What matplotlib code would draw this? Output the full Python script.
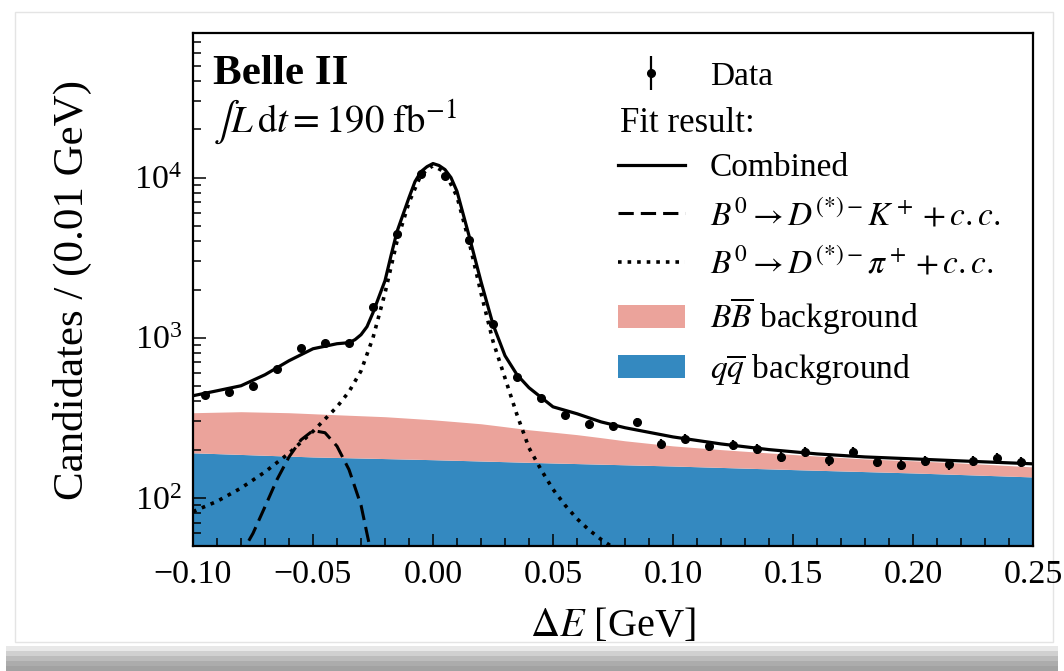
# Belle II Delta E fit plot (log scale) with stacked backgrounds

import numpy as np
import matplotlib
matplotlib.use("Agg")
import matplotlib.pyplot as plt
from matplotlib.patches import Rectangle

plt.rcParams['font.family'] = 'serif'
plt.rcParams['font.serif'] = ['Liberation Serif', 'DejaVu Serif']
plt.rcParams['mathtext.fontset'] = 'stix'

# data points (bin centres, 0.01 GeV bins)
bin_centres = np.linspace(-0.095, 0.245, 35)
counts = [440, 455, 500, 640, 860, 930, 920, 1560, 4450, 10600,
          10300, 4050, 1210, 570, 420, 330, 287, 280, 298, 218,
          234, 210, 214, 202, 180, 193, 172, 194, 168, 161,
          170, 163, 170, 176, 168]

# fit result: combined curve
comb_x = [-0.100, -0.090, -0.080, -0.070, -0.060, -0.050, -0.040, -0.035,
          -0.0325, -0.030, -0.0275, -0.025, -0.0225, -0.020, -0.0175,
          -0.015, -0.010, -0.0075, -0.005, -0.0025, 0.000, 0.0025, 0.005,
          0.0075, 0.010, 0.015, 0.020, 0.025, 0.030, 0.035, 0.040, 0.050,
          0.060, 0.070, 0.080, 0.100, 0.120, 0.140, 0.160, 0.180, 0.200,
          0.220, 0.250]
comb_y = [434, 466, 501, 587, 718, 853, 917, 931,
          972, 1044, 1172, 1433, 1805, 2270, 3254,
          4597, 7500, 9440, 10900, 11700, 12240, 11900, 11220,
          10000, 8200, 4340, 2240, 1210, 772, 587, 487, 370,
          335, 298, 274, 240, 217, 200, 188, 180, 175,
          170, 163]

# B0 -> D(*)- K+ component
dk_x = [-0.080, -0.078, -0.075, -0.070, -0.065, -0.060, -0.055, -0.050,
        -0.045, -0.040, -0.035, -0.030, -0.027, -0.025]
dk_y = [40, 50, 60, 88, 130, 180, 230, 263,
        255, 210, 150, 90, 55, 40]

# B0 -> D(*)- pi+ component
dpi_x = [-0.100, -0.090, -0.080, -0.070, -0.060, -0.050, -0.040, -0.035,
         -0.030, -0.025, -0.020, -0.015, -0.010, -0.005, 0.000, 0.005,
         0.010, 0.015, 0.020, 0.025, 0.030, 0.035, 0.040, 0.045, 0.050,
         0.055, 0.060, 0.065, 0.070, 0.075, 0.080]
dpi_y = [82, 95, 115, 145, 190, 260, 370, 460,
         620, 1000, 1900, 4000, 7000, 10400, 11900, 10800,
         7600, 4000, 1900, 950, 560, 330, 205, 150, 113,
         90, 74, 63, 55, 49, 44]

# backgrounds: qq top edge and total (qq + BB) top edge
qq_x = [-0.10, -0.05, 0.00, 0.05, 0.10, 0.15, 0.20, 0.25]
qq_y = [191, 180, 173, 165, 158, 150, 143, 135]

bkg_x = [-0.10, -0.08, -0.06, -0.04, -0.02, 0.00, 0.02, 0.04,
         0.06, 0.08, 0.10, 0.12, 0.15, 0.18, 0.21, 0.25]
bkg_y = [340, 345, 340, 330, 321, 307, 290, 266,
         248, 227, 211, 200, 186, 175, 168, 156]

pink = '#eba39b'
blue = '#3489c0'
y_bottom = 50
y_top = 8e4

fig = plt.figure(figsize=(10.64, 6.71), dpi=100)

# card frame with a soft shadow underneath
bg = fig.add_axes([0, 0, 1, 1], zorder=-10)
bg.set_xlim(0, 1064)
bg.set_ylim(671, 0)
bg.axis('off')
for i, c in enumerate(['#e8e8e8', '#d0d0d0', '#bcbcbc', '#acacac', '#a2a2a2']):
    bg.add_patch(Rectangle((6, 646 + i * 5), 1052, 5, facecolor=c,
                           edgecolor='none'))
bg.add_patch(Rectangle((15, 12), 1038, 630, facecolor='white',
                       edgecolor='#e4e4e4', lw=1))

ax = fig.add_axes([193 / 1064, 125 / 671, 840 / 1064, 513 / 671])

qq_top = np.interp(comb_x, qq_x, qq_y)
bkg_top = np.interp(comb_x, bkg_x, bkg_y)
ax.fill_between(qq_x, y_bottom * 0.5, qq_y, color=blue, lw=0, zorder=1)
ax.fill_between(comb_x, qq_top, bkg_top, color=pink, lw=0, zorder=1)

ax.plot(comb_x, comb_y, color='black', lw=2.3, zorder=4)
ax.plot(dk_x, dk_y, color='black', lw=2.2, dashes=(5, 2.3), zorder=3)
ax.plot(dpi_x, dpi_y, color='black', lw=2.6, linestyle=':', zorder=3)

ax.errorbar(bin_centres, counts, yerr=np.sqrt(counts), fmt='o',
            color='black', ms=5.5, elinewidth=1.6, capsize=0, zorder=5)

ax.set_yscale('log')
ax.set_xlim(-0.10, 0.25)
ax.set_ylim(y_bottom, y_top)

ax.set_xticks([-0.10, -0.05, 0.00, 0.05, 0.10, 0.15, 0.20, 0.25])
ax.set_xticklabels(['\u22120.10', '\u22120.05', '0.00', '0.05', '0.10',
                    '0.15', '0.20', '0.25'])
ax.set_xticks(np.linspace(-0.10, 0.25, 36), minor=True)

ax.tick_params(which='both', direction='in', top=False, right=False,
               labelsize=24.5, width=1.1)
ax.tick_params(which='major', length=9, pad=8)
ax.tick_params(axis='x', which='major', pad=10)
ax.tick_params(which='minor', length=6)
for sp in ax.spines.values():
    sp.set_linewidth(1.6)

ax.set_xlabel(r'$\Delta E$ [GeV]', fontsize=29, labelpad=12)
ax.set_ylabel('Candidates / (0.01 GeV)', fontsize=31, labelpad=30)

ax.text(0.024, 0.9, 'Belle II', transform=ax.transAxes, fontsize=31,
        fontweight='bold', va='baseline')
ax.text(0.024, 0.807, r'$\int L\,\mathrm{d}t = 190\ \mathrm{fb}^{-1}$',
        transform=ax.transAxes, fontsize=28, va='baseline')

# legend
h_data = ax.errorbar([], [], yerr=[], fmt='o', color='black', ms=5.5,
                     elinewidth=1.6, capsize=0)
h_blank = Rectangle((0, 0), 1, 1, fill=False, edgecolor='none')
h_comb, = ax.plot([], [], color='black', lw=2.3)
h_dk, = ax.plot([], [], color='black', lw=2.2, dashes=(5, 2.3))
h_dpi, = ax.plot([], [], color='black', lw=2.6, linestyle=':')
h_bb = Rectangle((0, 0), 1, 1, facecolor=pink, edgecolor='none')
h_qq = Rectangle((0, 0), 1, 1, facecolor=blue, edgecolor='none')

handles = [h_data, h_blank, h_comb, h_dk, h_dpi, h_bb, h_qq]
labels = ['Data', ' ', 'Combined',
          r'$B^0 \to D^{(*)-}K^+ + c.c.$',
          r'$B^0 \to D^{(*)-}\pi^+ + c.c.$',
          r'$B\overline{B}$ background',
          r'$q\overline{q}$ background']
ax.legend(handles, labels, loc='upper left', bbox_to_anchor=(0.506, 0.945),
          frameon=False, fontsize=24, borderpad=0, borderaxespad=0,
          handlelength=2.0, handletextpad=0.75, labelspacing=0.46)
ax.text(0.508, 0.807, 'Fit result:', transform=ax.transAxes, fontsize=25,
        va='baseline')

fig.savefig('out.png', dpi=100)
